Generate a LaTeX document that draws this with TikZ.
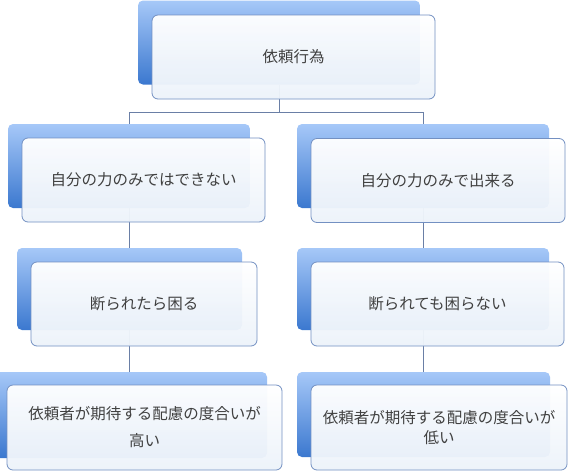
\documentclass[tikz,border=0pt]{standalone}
\usepackage{fontspec}
\setmainfont{Noto Sans CJK JP}
\usepackage{xcolor}
\usepackage{tikz}

\definecolor{backtop}{HTML}{A6C8F8}
\definecolor{backbot}{HTML}{3B78CF}
\definecolor{paleblue}{HTML}{EDF3FA}
\definecolor{frameblue}{HTML}{7390C2}
\definecolor{linkgray}{HTML}{6A7FA6}
\definecolor{txtgray}{HTML}{404040}

\begin{document}
\begin{tikzpicture}[x=1pt, y=-1pt,
    backbox/.style={rectangle, rounded corners=5pt, inner sep=0pt,
        top color=backtop, bottom color=backbot, minimum height=84pt},
    frontbox/.style={rectangle, rounded corners=6pt, inner sep=0pt,
        draw=frameblue, line width=0.8pt, top color=white, bottom color=paleblue,
        fill opacity=0.96, text opacity=1, minimum height=84pt, align=center,
        text=txtgray, font=\fontsize{15.5}{20}\selectfont},
    link/.style={draw=linkgray, line width=0.7pt}]
    \fill[white] (0,0) rectangle (569,471);
    \useasboundingbox (0,0) rectangle (569,471);

    % blue blocks behind each box
    \node[backbox, minimum width=282pt] (req-b) at (279,42.5) {};
    \node[backbox, minimum width=242pt] (selfno-b) at (129,166) {};
    \node[backbox, minimum width=252pt] (selfok-b) at (423,166) {};
    \node[backbox, minimum width=225pt, minimum height=82pt] (refbad-b) at (129.5,289) {};
    \node[backbox, minimum width=252pt, minimum height=82pt] (refok-b) at (423,289) {};
    \node[backbox, minimum width=274pt, minimum height=86pt] (carehi-b) at (130,415) {};
    \node[backbox, minimum width=253pt, minimum height=85pt] (carelo-b) at (423.5,414.5) {};

    % tree lines
    \coordinate (bus) at (0,112);
    \draw[link] (req-b.south) -- (req-b.south |- bus) -| (selfno-b.north);
    \draw[link] (req-b.south |- bus) -| (selfok-b.north);
    \draw[link] (selfno-b.south) -- (selfno-b.south |- refbad-b.north);
    \draw[link] (refbad-b.south) -- (refbad-b.south |- carehi-b.north);
    \draw[link] (selfok-b.south) -- (selfok-b.south |- refok-b.north);
    \draw[link] (refok-b.south) -- (refok-b.south |- carelo-b.north);

    % white boxes with the labels
    \node[frontbox, minimum width=283pt] (req) at (293.5,57) {依頼行為};
    \node[frontbox, minimum width=243pt] (selfno) at (143.5,180) {自分の力のみではできない};
    \node[frontbox, minimum width=254pt] (selfok) at (438,180.5) {自分の力のみで出来る};
    \node[frontbox, minimum width=226pt] (refbad) at (144,304) {断られたら困る};
    \node[frontbox, minimum width=253pt] (refok) at (437.5,304) {断られても困らない};
    \node[frontbox, minimum width=275pt, minimum height=85pt] (carehi) at (144.5,427.5)
        {依頼者が期待する配慮の度合いが\\[7pt]高い};
    \node[frontbox, minimum width=256pt, minimum height=85pt] (carelo) at (439,427.5)
        {依頼者が期待する配慮の度合いが\\低い};
\end{tikzpicture}
\end{document}
